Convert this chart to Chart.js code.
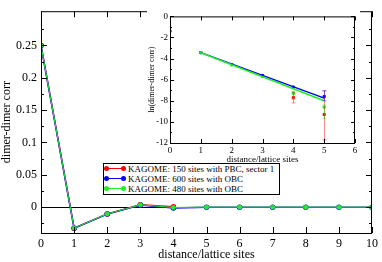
<!DOCTYPE html>
<html>
<head>
<meta charset="utf-8">
<script src="https://cdn.jsdelivr.net/npm/chart.js@4/dist/chart.umd.min.js"></script>
<style>
html, body { margin: 0; padding: 0; background: #fff; }
#wrap { position: relative; width: 382px; height: 262px; overflow: hidden; }
#main { position: absolute; left: 0; top: 0; }
#inset { position: absolute; left: 147px; top: 9px; background: #fff; }
#legend { position: absolute; left: 103px; top: 163px; width: 177px; height: 32px; border: 1px solid #000;
  background: #fff; font: 9px "Liberation Serif", serif; color: #000; box-sizing: border-box; padding-top: 0px; }
#legend div { height: 10px; line-height: 10px; white-space: nowrap; }
.sym { display: inline-block; position: relative; width: 18px; height: 1px; margin: 0 4px 2px 2px; vertical-align: middle; }
.sym:before, .sym:after { content: ""; position: absolute; top: -2px; width: 5px; height: 5px; border-radius: 50%; background: inherit; }
.sym:before { left: -2px; }
.sym:after { right: -2px; }
</style>
</head>
<body>
<div id="wrap">
  <canvas id="main" width="382" height="262"></canvas>
  <canvas id="inset" width="213" height="156"></canvas>
  <div id="legend">
    <div><span class="sym" style="background:#ff0000"></span>KAGOME: 150 sites with PBC, sector 1</div>
    <div><span class="sym" style="background:#0000ff"></span>KAGOME: 600 sites with OBC</div>
    <div><span class="sym" style="background:#22ee22"></span>KAGOME: 480 sites with OBC</div>
  </div>
</div>
<script>
// main plot
var distances = [0, 1, 2, 3, 4, 5, 6, 7, 8, 9, 10]
var corr150 = [0.25, -0.0325, -0.0105, 0.0035, 0.0005]
var corr600 = [0.25, -0.0325, -0.0108, 0.0032, -0.0012, 0, 0, 0, 0, 0, 0]
var corr480 = [0.25, -0.0325, -0.0105, 0.0035, -0.0005, 0, 0, 0, 0, 0, 0]
var yMajor = [0, 0.05, 0.1, 0.15, 0.2, 0.25]
var yMinor = [-0.025, 0.025, 0.075, 0.125, 0.175, 0.225, 0.275]

// inset (log)
var lnDist = [0, 1, 2, 3, 4, 5]
var ln150 = [-1.39, -3.43, -4.56, -5.65, -7.7, -9.3]
var ln600 = [-1.39, -3.43, -4.56, -5.6, -6.7, -7.6]
var ln480 = [-1.39, -3.43, -4.6, -5.7, -7.3, -8.6]
var fitDist = [1, 5]
var fit600 = [-3.43, -7.75]
var fit480 = [-3.45, -8.0]
// error bars: [x, low, high]
var err150 = [[4, -8.2, -7.2], [5, -11.7, -7.05]]
var err600 = [[5, -8.0, -7.05]]
var err480 = [[4, -7.85, -7.1], [5, -9.7, -8.4]]
var insetYMajor = [0, -2, -4, -6, -8, -10, -12]
var insetYMinor = [-1, -3, -5, -7, -9, -11]

var RED = '#ff0000', BLUE = '#0000ff', GREEN = '#22ee22'

function pts(xs, ys) {
    var out = []
    for (var i = 0; i < ys.length; i++) out.push({x: xs[i], y: ys[i]})
    return out
}

// inward ticks + frame, grace style
function frame(cfg) {
    return {
        id: 'frame',
        afterDraw: function(chart) {
            var ctx = chart.ctx, a = chart.chartArea
            var xs = chart.scales.x, ys = chart.scales.y
            ctx.save()
            ctx.strokeStyle = '#000'
            ctx.lineWidth = 1
            ctx.strokeRect(a.left + 0.5, a.top + 0.5, a.right - a.left - 1, a.bottom - a.top)
            ctx.beginPath()
            cfg.xMajor.forEach(function(v) {
                var p = Math.round(xs.getPixelForValue(v)) + 0.5
                ctx.moveTo(p, a.bottom); ctx.lineTo(p, a.bottom - cfg.major)
                ctx.moveTo(p, a.top); ctx.lineTo(p, a.top + cfg.major)
            })
            cfg.yMajor.forEach(function(v) {
                var p = Math.round(ys.getPixelForValue(v)) + 0.5
                ctx.moveTo(a.left, p); ctx.lineTo(a.left + cfg.major, p)
                ctx.moveTo(a.right, p); ctx.lineTo(a.right - cfg.major, p)
            })
            cfg.yMinor.forEach(function(v) {
                var p = Math.round(ys.getPixelForValue(v)) + 0.5
                ctx.moveTo(a.left, p); ctx.lineTo(a.left + cfg.minor, p)
                ctx.moveTo(a.right, p); ctx.lineTo(a.right - cfg.minor, p)
            })
            ctx.stroke()
            ctx.restore()
        }
    }
}

var errorBars = {
    id: 'errorBars',
    afterDatasetsDraw: function(chart) {
        var ctx = chart.ctx, xs = chart.scales.x, ys = chart.scales.y
        var sets = [[err150, 'rgba(255,0,0,0.45)'], [err600, 'rgba(0,0,255,0.45)'], [err480, 'rgba(0,220,0,0.45)']]
        ctx.save()
        ctx.lineWidth = 1
        sets.forEach(function(s) {
            ctx.strokeStyle = s[1]
            s[0].forEach(function(e) {
                var px = Math.round(xs.getPixelForValue(e[0])) + 0.5
                var lo = ys.getPixelForValue(e[1]), hi = ys.getPixelForValue(e[2])
                ctx.beginPath()
                ctx.moveTo(px, lo); ctx.lineTo(px, hi)
                ctx.moveTo(px - 2, lo); ctx.lineTo(px + 2, lo)
                ctx.moveTo(px - 2, hi); ctx.lineTo(px + 2, hi)
                ctx.stroke()
            })
        })
        ctx.restore()
    }
}

var serif = '"Liberation Serif", serif'

new Chart(document.getElementById('main'), {
    type: 'line',
    data: {
        datasets: [
            {label: 'KAGOME: 480 sites with OBC', data: pts(distances, corr480), borderColor: GREEN, backgroundColor: GREEN, borderWidth: 1, pointRadius: 2},
            {label: 'KAGOME: 600 sites with OBC', data: pts(distances, corr600), borderColor: BLUE, backgroundColor: BLUE, borderWidth: 1.5, pointRadius: 2},
            {label: 'KAGOME: 150 sites with PBC, sector 1', data: pts(distances, corr150), borderColor: RED, backgroundColor: RED, borderWidth: 1.5, pointRadius: 2}
        ]
    },
    options: {
        responsive: false,
        animation: false,
        layout: {padding: {top: 2, right: 8, left: 0, bottom: 0}},
        plugins: {legend: {display: false}, tooltip: {enabled: false}},
        scales: {
            x: {
                type: 'linear', min: 0, max: 10,
                afterBuildTicks: function(s) { s.ticks = distances.map(function(v) { return {value: v} }) },
                afterFit: function(s) { s.height = 29 },
                grid: {display: false, drawTicks: false},
                border: {display: false},
                ticks: {color: '#000', padding: 4, font: {family: serif, size: 12}, maxRotation: 0},
                title: {display: true, text: 'distance/lattice sites', color: '#000', font: {family: serif, size: 12}, padding: {top: 0, bottom: 0}}
            },
            y: {
                type: 'linear', min: -0.04, max: 0.303,
                afterBuildTicks: function(s) { s.ticks = yMajor.map(function(v) { return {value: v} }) },
                afterFit: function(s) { s.width = 41 },
                grid: {drawTicks: false, color: function(c) { return c.tick && c.tick.value === 0 ? '#000' : 'rgba(0,0,0,0)' }},
                border: {display: false},
                ticks: {color: '#000', padding: 4, font: {family: serif, size: 12}, callback: function(v) { return String(+v.toFixed(2)) }},
                title: {display: true, text: 'dimer-dimer corr', color: '#000', font: {family: serif, size: 12}, padding: {top: 0, bottom: 2}}
            }
        }
    },
    plugins: [frame({xMajor: distances, yMajor: yMajor, yMinor: yMinor, major: 6, minor: 3})]
})

new Chart(document.getElementById('inset'), {
    type: 'line',
    data: {
        datasets: [
            {data: pts(fitDist, fit480), borderColor: GREEN, borderWidth: 1.5, pointRadius: 0},
            {data: pts(fitDist, fit600), borderColor: BLUE, borderWidth: 1.5, pointRadius: 0},
            {data: pts(lnDist, ln480), showLine: false, pointStyle: 'rect', pointRadius: 1.5, backgroundColor: GREEN, borderColor: GREEN},
            {data: pts(lnDist, ln600), showLine: false, pointStyle: 'rect', pointRadius: 1.5, backgroundColor: BLUE, borderColor: BLUE},
            {data: pts(lnDist, ln150), showLine: false, pointStyle: 'rect', pointRadius: 1.5, backgroundColor: RED, borderColor: RED}
        ]
    },
    options: {
        responsive: false,
        animation: false,
        layout: {padding: {top: 4, right: 5, left: 0, bottom: 0}},
        plugins: {legend: {display: false}, tooltip: {enabled: false}},
        scales: {
            x: {
                type: 'linear', min: 0, max: 6,
                afterBuildTicks: function(s) { s.ticks = [0, 1, 2, 3, 4, 5, 6].map(function(v) { return {value: v} }) },
                afterFit: function(s) { s.height = 22 },
                grid: {display: false, drawTicks: false},
                border: {display: false},
                ticks: {color: '#000', padding: 2, font: {family: serif, size: 9}, maxRotation: 0, autoSkip: false},
                title: {display: true, text: 'distance/lattice sites', color: '#000', font: {family: serif, size: 9}, padding: {top: 0, bottom: 0}}
            },
            y: {
                type: 'linear', min: -12, max: 0,
                afterBuildTicks: function(s) { s.ticks = insetYMajor.map(function(v) { return {value: v} }) },
                afterFit: function(s) { s.width = 23 },
                grid: {display: false, drawTicks: false},
                border: {display: false},
                ticks: {color: '#000', padding: 2, font: {family: serif, size: 9}},
                title: {display: true, text: 'ln(dimer-dimer corr)', color: '#000', font: {family: serif, size: 8}, padding: {top: 0, bottom: 0}}
            }
        }
    },
    plugins: [errorBars, frame({xMajor: [0, 1, 2, 3, 4, 5, 6], yMajor: insetYMajor, yMinor: insetYMinor, major: 4, minor: 2})]
})
</script>
</body>
</html>
